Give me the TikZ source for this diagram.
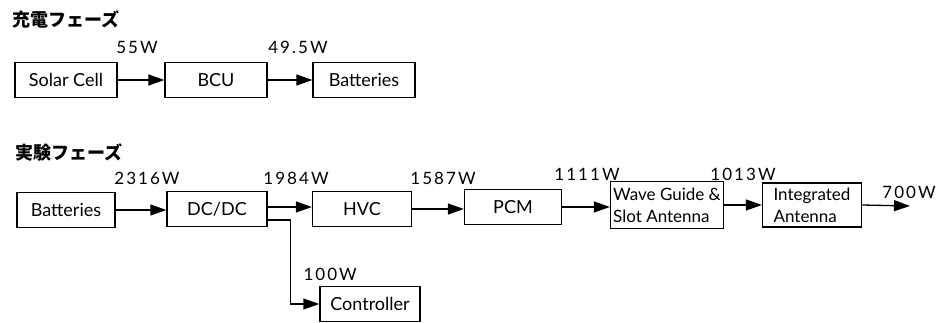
\documentclass[tikz,border=0pt]{standalone}
\usepackage{fontspec}
\setmainfont{Lato}
\newfontfamily\jpfont{Noto Sans CJK JP}
\usepackage{tikz}
\usetikzlibrary{arrows.meta,positioning}

\begin{document}
\begin{tikzpicture}[x=1pt,y=-1pt,
  font=\fontsize{18}{21}\selectfont,
  box/.style={draw,line width=1.3pt,minimum height=35pt,inner sep=2pt,fill=white},
  two/.style={box,align=left,font=\fontsize{17}{22}\selectfont,inner xsep=1pt},
  lab/.style={font=\fontsize{17}{19}\selectfont\addfontfeature{LetterSpace=12}},
  ttl/.style={anchor=west,font=\jpfont\bfseries\fontsize{18}{20}\selectfont},
  link/.style={line width=1.3pt,->},
  >={Triangle[length=16pt,width=11pt]}]
  \useasboundingbox (0,0) rectangle (939,323);
  % charging phase
  \node[ttl] (chg) at (9,20) {充電フェーズ};
  \node[box,minimum width=102pt] (solar) at (66,80) {Solar Cell};
  \node[box,minimum width=102pt] (bcu) at (216,80) {BCU};
  \node[box,minimum width=102pt] (batA) at (364,80) {Batteries};
  \draw[link] (solar) -- (bcu);
  \draw[link] (bcu) -- (batA);
  \node[lab] (w55) at (137,47) {55W};
  \node[lab] (w495) at (298,47) {49.5W};
  % experiment phase
  \node[ttl] (exp) at (12,152) {実験フェーズ};
  \node[box,minimum width=98pt] (batB) at (66,210) {Batteries};
  \node[box,minimum width=100pt] (dcdc) at (217,209) {DC/DC};
  \node[box,minimum width=99pt] (hvc) at (362,209) {HVC};
  \node[box,minimum width=97pt] (pcm) at (513,207) {PCM};
  \node[two,minimum width=113pt,minimum height=47pt] (wg) at (667,205) {Wave Guide \&\\Slot Antenna};
  \node[two,minimum width=99pt,minimum height=44pt] (ia) at (812,205) {Integrated\\Antenna};
  \node[box,minimum width=100pt] (ctrl) at (370,304) {Controller};
  \coordinate (out) at (910,206);
  \draw[link] (batB.east) -- (batB.east -| dcdc.west);
  \draw[link] ([yshift=2pt]dcdc.east) -- ([yshift=2pt]dcdc.east -| hvc.west);
  \draw[link] ([yshift=-11pt]dcdc.east) -- ++(23,0) |- (ctrl.west);
  \draw[link] (hvc.east) -- (hvc.east -| pcm.west);
  \draw[link] (pcm.east) -- (pcm.east -| wg.west);
  \draw[link] (wg.east) -- (wg.east -| ia.west);
  \draw[link] (ia.east) -- (out);
  \node[lab] (w2316) at (147,178) {2316W};
  \node[lab] (w1984) at (296,178) {1984W};
  \node[lab] (w1587) at (443,178) {1587W};
  \node[lab] (w1111) at (587,174) {1111W};
  \node[lab] (w1013) at (743,174) {1013W};
  \node[lab] (w700) at (909,192) {700W};
  \node[lab,anchor=west] (w100) at (300,274) {100W};
\end{tikzpicture}
\end{document}
